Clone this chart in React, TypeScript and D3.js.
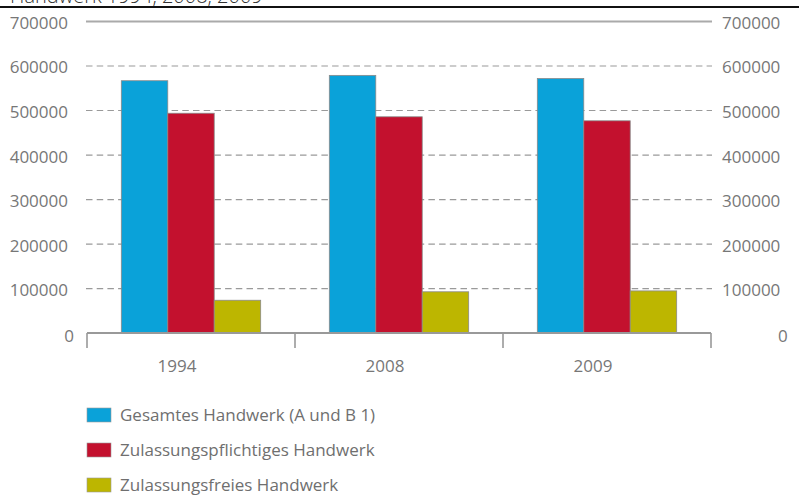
import React from 'react';
import * as d3 from 'd3';

const years = ['1994', '2008', '2009'];
const seriesNames = ['Gesamtes Handwerk (A und B 1)', 'Zulassungspflichtiges Handwerk', 'Zulassungsfreies Handwerk'];
const gesamt = [567000, 579000, 572000];
const pflichtig = [494000, 486000, 477000];
const frei = [74000, 93000, 95000];
const yTicks = [0, 100000, 200000, 300000, 400000, 500000, 600000, 700000];
const title = 'Handwerk 1994, 2008, 2009';

const colors = ['#0aa2d9', '#c3112e', '#bdb600'];
const FONT = "'Open Sans', sans-serif";

export default function App() {
  const W = 799, H = 496;
  const series = [gesamt, pflichtig, frei];
  const y = d3.scaleLinear().domain([0, 700000]).range([333.2, 21.5]);
  const x = d3.scaleBand<string>().domain(years).range([87, 711]).paddingInner(0.33).paddingOuter(0.165);
  const inner = d3.scaleBand<number>().domain([0, 1, 2]).range([0, x.bandwidth()]);
  const r0 = x.range()[0];
  const edges = d3.range(years.length + 1).map(i => r0 + i * x.step());

  return (
    <div style={{ position: 'absolute', left: 0, top: 0 }}>
      <svg width={W} height={H} style={{ display: 'block', overflow: 'hidden' }} fontFamily={FONT}>
        <rect width={W} height={H} fill="#fff" />
        <text x={10} y={3} fontSize={20} fill="#333" fontWeight={300}>{title}</text>
        <line x1={0} x2={W} y1={7} y2={7} stroke="#111" strokeWidth={2.2} />
        {yTicks.filter(t => t !== 0).map(t => (
          t === 700000 ? (
            <line key={t} x1={86} x2={712} y1={y(t)} y2={y(t)} stroke="#aaa" strokeWidth={2} />
          ) : (
            <line key={t} x1={86} x2={712} y1={y(t)} y2={y(t)} stroke="#9a9a9a" strokeWidth={1.1} strokeDasharray="6.5,4.2" />
          )
        ))}
        {years.map((yr, i) => (
          <g key={yr} transform={`translate(${x(yr)},0)`}>
            {series.map((s, j) => (
              <rect key={j} x={inner(j)} y={y(s[i])} width={inner.bandwidth()} height={y(0) - y(s[i])}
                fill={colors[j]} stroke="#8a8a8a" strokeWidth={0.8} />
            ))}
          </g>
        ))}
        <line x1={edges[0]} x2={edges[edges.length - 1]} y1={333} y2={333} stroke="#999" strokeWidth={2} />
        {edges.map((e, i) => (
          <line key={i} x1={e} x2={e} y1={333} y2={348} stroke="#999" strokeWidth={1.6} />
        ))}
        {yTicks.map(t => (
          <g key={t} fontSize={17} fill="#777">
            <text x={t === 0 ? 74 : 68} y={y(t) + (t === 0 ? 2.5 : 1.5)} dy="0.35em" textAnchor="end">{t}</text>
            <text x={t === 0 ? 778 : 722} y={y(t) + (t === 0 ? 2.5 : 1.5)} dy="0.35em" textAnchor="start">{t}</text>
          </g>
        ))}
        {years.map(yr => (
          <text key={yr} x={(x(yr) as number) + x.bandwidth() / 2 - 14} y={372} fontSize={17} fill="#777" textAnchor="middle">{yr}</text>
        ))}
        {seriesNames.map((n, j) => (
          <g key={n} transform={`translate(0,${408 + j * 35})`}>
            <rect x={87} y={0} width={24} height={14} fill={colors[j]} stroke="#999" strokeWidth={0.6} />
            <text x={120} y={7} dy="0.35em" fontSize={17} fill="#6f6f6f">{n}</text>
          </g>
        ))}
      </svg>
    </div>
  );
}
